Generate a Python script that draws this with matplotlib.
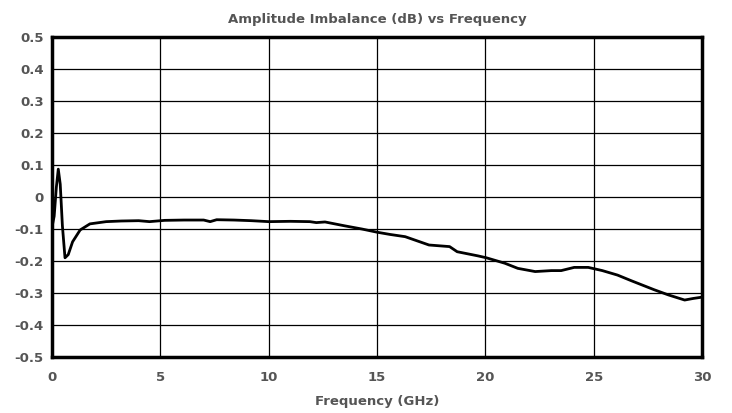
import matplotlib
matplotlib.use("Agg")
import matplotlib.pyplot as plt
import numpy as np

freq = [0.0, 0.1, 0.2, 0.29, 0.38, 0.48, 0.6, 0.75, 0.95, 1.3, 1.75, 2.5, 3.2, 4.0,
        4.5, 5.2, 6.1, 7.0, 7.3, 7.6, 8.4, 9.2, 10.0, 11.0, 11.9, 12.2, 12.6,
        13.5, 14.3, 15.0, 15.6, 16.3, 17.4, 18.35, 18.7, 19.66, 20.05, 20.9,
        21.5, 22.3, 23.05, 23.5, 24.1, 24.75, 25.4, 26.1, 26.75, 27.8, 28.45,
        29.2, 29.6, 30.0]
imbalance = [-0.094, -0.06, 0.03, 0.087, 0.04, -0.09, -0.19, -0.18, -0.14, -0.103,
             -0.084, -0.077, -0.075, -0.074, -0.077, -0.073, -0.072, -0.072, -0.077,
             -0.071, -0.072, -0.074, -0.077, -0.076, -0.077, -0.08, -0.078, -0.09,
             -0.1, -0.11, -0.117, -0.124, -0.15, -0.155, -0.171, -0.184, -0.19,
             -0.207, -0.223, -0.233, -0.23, -0.23, -0.22, -0.22, -0.23, -0.244,
             -0.262, -0.29, -0.306, -0.322, -0.317, -0.313]

x_ticks = [0, 5, 10, 15, 20, 25, 30]
y_ticks = [-0.5, -0.4, -0.3, -0.2, -0.1, 0, 0.1, 0.2, 0.3, 0.4, 0.5]
y_labels = ["-0.5", "-0.4", "-0.3", "-0.2", "-0.1", "0", "0.1", "0.2", "0.3", "0.4", "0.5"]

text_color = "#555555"

fig = plt.figure(figsize=(7.32, 4.13), dpi=100)
ax = fig.add_axes([52 / 732, 56 / 413, 650 / 732, 320 / 413])
ax.plot(freq, imbalance, color="black", linewidth=2.0)
ax.set_xlim(0, 30)
ax.set_ylim(-0.5, 0.5)
ax.set_xticks(x_ticks)
ax.set_yticks(y_ticks)
ax.set_yticklabels(y_labels)
ax.grid(True, color="black", linewidth=0.9)
ax.tick_params(length=0, labelsize=9.5, labelcolor=text_color)
ax.tick_params(axis="x", pad=10)
ax.tick_params(axis="y", pad=6)
for lab in ax.get_xticklabels() + ax.get_yticklabels():
    lab.set_fontweight("bold")
for sp in ax.spines.values():
    sp.set_linewidth(2.5)
ax.set_xlabel("Frequency (GHz)", fontsize=9.5, fontweight="bold", color=text_color, labelpad=8)
ax.set_title("Amplitude Imbalance (dB) vs Frequency", fontsize=9.5, fontweight="bold",
             color=text_color, pad=10)
fig.savefig("out.png", dpi=100)
